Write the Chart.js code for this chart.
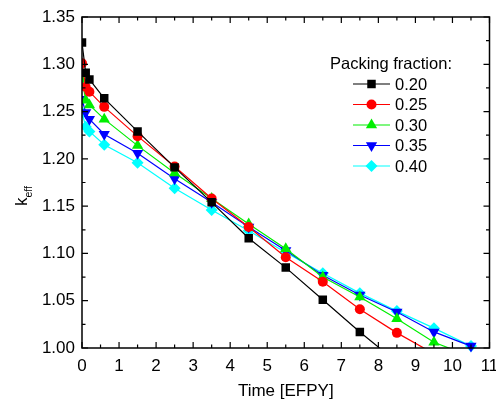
<!DOCTYPE html>
<html>
<head>
<meta charset="utf-8">
<script src="https://cdn.jsdelivr.net/npm/chart.js@4/dist/chart.umd.min.js"></script>
<style>
  html, body { margin:0; padding:0; background:#fff; }
</style>
</head>
<body>
<canvas id="chart" width="496" height="407"></canvas>
<script>
// burnup times [EFPY]
const times = [0, 0.1, 0.2, 0.6, 1.5, 2.5, 3.5, 4.5, 5.5, 6.5, 7.5, 8.5, 9.5, 10.5];
const fractions = ['0.20', '0.25', '0.30', '0.35', '0.40'];

// k_eff per packing fraction (last points run just past 1.00)
const k020 = [1.323, 1.291, 1.284, 1.264, 1.229, 1.191, 1.154, 1.116, 1.085, 1.051, 1.017, 0.985];
const k025 = [1.301, 1.276, 1.271, 1.255, 1.224, 1.192, 1.158, 1.128, 1.096, 1.070, 1.041, 1.016, 0.994];
const k030 = [1.284, 1.262, 1.257, 1.242, 1.214, 1.185, 1.158, 1.131, 1.105, 1.075, 1.054, 1.031, 1.006, 0.991];
const k035 = [1.263, 1.249, 1.242, 1.226, 1.206, 1.179, 1.154, 1.128, 1.103, 1.077, 1.056, 1.038, 1.017, 1.002];
const k040 = [1.249, 1.234, 1.229, 1.215, 1.196, 1.169, 1.146, 1.124, 1.101, 1.079, 1.058, 1.039, 1.021, 1.002];

const xTicks = [0, 1, 2, 3, 4, 5, 6, 7, 8, 9, 10, 11];
const yTicks = [1.00, 1.05, 1.10, 1.15, 1.20, 1.25, 1.30, 1.35];

const FONT = '"Liberation Sans", Arial, sans-serif';

const styles = [
  {color:'#000000', point:'rect',     r:6,   rot:0},
  {color:'#ff0000', point:'circle',   r:5,   rot:0},
  {color:'#00ee00', point:'triangle', r:6.5, rot:0},
  {color:'#0000ff', point:'triangle', r:6.5, rot:180},
  {color:'#00ffff', point:'rectRot',  r:6,   rot:0},
];
const series = [k020, k025, k030, k035, k040];

const datasets = series.map((vals, i) => ({
  label: fractions[i],
  data: vals.map((v, j) => ({x: times[j], y: v})),
  borderColor: styles[i].color,
  backgroundColor: styles[i].color,
  borderWidth: 1.2,
  pointStyle: styles[i].point,
  pointRadius: styles[i].r,
  pointRotation: styles[i].rot,
  pointBorderWidth: 0,
  tension: 0,
  clip: i >= 3 ? {left:0, top:0, right:0, bottom:8} : 0,
}));

// frame + inward ticks on all four sides
const framePlugin = {
  id: 'frame',
  afterDraw(chart) {
    const {ctx, chartArea: a, scales: {x, y}} = chart;
    ctx.save();
    ctx.strokeStyle = '#000';
    ctx.lineWidth = 1.5;
    ctx.strokeRect(a.left, a.top, a.right - a.left, a.bottom - a.top);
    ctx.lineWidth = 1.2;
    ctx.beginPath();
    for (let t = 0; t <= 11.001; t += 0.5) {
      const px = x.getPixelForValue(t);
      const len = Math.abs(t - Math.round(t)) < 1e-6 ? 6 : 3.5;
      ctx.moveTo(px, a.bottom); ctx.lineTo(px, a.bottom - len);
      ctx.moveTo(px, a.top); ctx.lineTo(px, a.top + len);
    }
    for (let i = 0; i <= 14; i++) {
      const py = y.getPixelForValue(1 + i * 0.025);
      const len = i % 2 === 0 ? 6 : 3.5;
      ctx.moveTo(a.left, py); ctx.lineTo(a.left + len, py);
      ctx.moveTo(a.right, py); ctx.lineTo(a.right - len, py);
    }
    ctx.stroke();

    // y title: k with "eff" subscript
    ctx.fillStyle = '#000';
    ctx.translate(27, 206);
    ctx.rotate(-Math.PI / 2);
    ctx.textBaseline = 'alphabetic';
    ctx.textAlign = 'left';
    ctx.font = '17px ' + FONT;
    ctx.fillText('k', 0, 0);
    const kw = ctx.measureText('k').width;
    ctx.font = '10.5px ' + FONT;
    ctx.fillText('eff', kw, 5);
    ctx.restore();
  }
};

function marker(ctx, s, cx, cy) {
  ctx.beginPath();
  const r = s.r;
  if (s.point === 'rect') {
    const h = r * Math.SQRT1_2;
    ctx.rect(cx - h, cy - h, 2 * h, 2 * h);
  } else if (s.point === 'circle') {
    ctx.arc(cx, cy, r, 0, Math.PI * 2);
  } else if (s.point === 'triangle') {
    const dir = s.rot ? 1 : -1;
    ctx.moveTo(cx, cy + dir * r);
    ctx.lineTo(cx - r * 0.866, cy - dir * r * 0.5);
    ctx.lineTo(cx + r * 0.866, cy - dir * r * 0.5);
    ctx.closePath();
  } else {
    ctx.moveTo(cx, cy - r); ctx.lineTo(cx + r, cy);
    ctx.lineTo(cx, cy + r); ctx.lineTo(cx - r, cy);
    ctx.closePath();
  }
  ctx.fill();
}

const legendPlugin = {
  id: 'boxLegend',
  afterDraw(chart) {
    const ctx = chart.ctx;
    ctx.save();
    ctx.fillStyle = '#000';
    ctx.font = '16.5px ' + FONT;
    ctx.textBaseline = 'middle';
    ctx.textAlign = 'left';
    ctx.fillText('Packing fraction:', 330, 64);
    fractions.forEach((f, i) => {
      const yy = 84 + i * 20.5;
      const s = styles[i];
      ctx.strokeStyle = s.color;
      ctx.fillStyle = s.color;
      ctx.lineWidth = 1.2;
      ctx.beginPath(); ctx.moveTo(353, yy); ctx.lineTo(390, yy); ctx.stroke();
      marker(ctx, s, 371.5, yy);
      ctx.fillStyle = '#000';
      ctx.fillText(f, 395, yy + 1);
    });
    ctx.restore();
  }
};

new Chart(document.getElementById('chart'), {
  type: 'line',
  data: { datasets },
  options: {
    responsive: false,
    animation: false,
    events: [],
    layout: { padding: { top: 17, right: 6, left: 0, bottom: 0 } },
    plugins: { legend: { display: false }, tooltip: { enabled: false } },
    scales: {
      x: {
        type: 'linear', min: 0, max: 11,
        afterBuildTicks: s => { s.ticks = xTicks.map(v => ({value: v})); },
        afterFit: s => { s.height = 59; s.paddingLeft = 0; s.paddingRight = 0; },
        grid: { display: false, drawTicks: false },
        border: { display: false },
        ticks: { color: '#000', padding: 8, maxRotation: 0, autoSkip: false,
                 font: { family: FONT, size: 17 } },
        title: { display: true, text: 'Time [EFPY]', color: '#000',
                 padding: { top: 0, bottom: 5 }, font: { family: FONT, size: 17 } }
      },
      y: {
        type: 'linear', min: 1.0, max: 1.35,
        afterBuildTicks: s => { s.ticks = yTicks.map(v => ({value: v})); },
        afterFit: s => { s.width = 82; s.paddingTop = 0; s.paddingBottom = 0; },
        grid: { display: false, drawTicks: false },
        border: { display: false },
        ticks: { color: '#000', padding: 7, autoSkip: false,
                 callback: v => Number(v).toFixed(2),
                 font: { family: FONT, size: 17 } }
      }
    }
  },
  plugins: [framePlugin, legendPlugin]
});
</script>
</body>
</html>
